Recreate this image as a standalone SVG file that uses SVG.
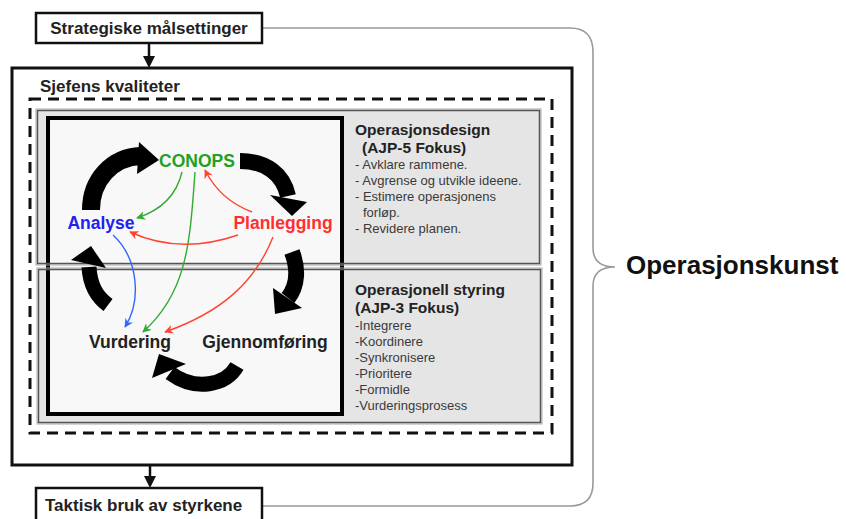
<svg xmlns="http://www.w3.org/2000/svg" width="846" height="519" viewBox="0 0 846 519">
<style>
text{font-family:"Liberation Sans",Arial,sans-serif}
.hdr{font-size:17px;font-weight:bold;fill:#222}
.cyc{font-size:17.5px;font-weight:bold}
.ph{font-size:15.5px;font-weight:bold;fill:#222}
.it{font-size:13px;fill:#3a3a3a}
.band{fill:none;stroke:#000;stroke-width:16;stroke-linecap:butt}
.gbox{fill:none;stroke:#555;stroke-width:1.5}
.gout{fill:none;stroke:#aaa;stroke-width:1}
.thin{fill:none;stroke-width:1.4}
</style>
<defs>
<marker id="mg" viewBox="0 0 10 10" refX="9" refY="5" markerWidth="9" markerHeight="9" markerUnits="userSpaceOnUse" orient="auto"><path d="M0,0 L10,5 L0,10 L3,5 z" fill="#33aa33"/></marker>
<marker id="mr" viewBox="0 0 10 10" refX="9" refY="5" markerWidth="9" markerHeight="9" markerUnits="userSpaceOnUse" orient="auto"><path d="M0,0 L10,5 L0,10 L3,5 z" fill="#ff4433"/></marker>
<marker id="mb" viewBox="0 0 10 10" refX="9" refY="5" markerWidth="9" markerHeight="9" markerUnits="userSpaceOnUse" orient="auto"><path d="M0,0 L10,5 L0,10 L3,5 z" fill="#3366ff"/></marker>
</defs>
<rect width="846" height="519" fill="#fff"/>

<g id="brace">
<path d="M262,28 H570 Q593,28 593,52 V248 Q593,267 615,267 Q593,267 593,286 V483 Q593,506 570,506 H262" fill="none" stroke="#999" stroke-width="1.6"/>
</g>

<g id="strategiske">
<rect x="36" y="13" width="226" height="30" fill="#fff" stroke="#111" stroke-width="2.5"/>
<text x="149" y="34" class="hdr" text-anchor="middle">Strategiske målsettinger</text>
</g>

<g id="outer-frame">
<rect x="12" y="68" width="560" height="397" fill="#fff" stroke="#111" stroke-width="3"/>
<text x="40" y="92" class="hdr">Sjefens kvaliteter</text>
</g>

<g id="dashed-frame">
<rect x="30" y="99" width="522" height="334" fill="none" stroke="#111" stroke-width="3" stroke-dasharray="11 7"/>
</g>

<g id="operasjonsdesign">
<rect x="37" y="110" width="503" height="154" fill="#e5e5e5"/>
</g>
<g id="operasjonell-styring">
<rect x="38" y="269" width="503" height="154" fill="#e5e5e5"/>
</g>

<g id="cycle-square">
<rect x="48" y="118" width="294" height="296" fill="#f8f8f8" stroke="#000" stroke-width="4"/>
</g>

<g id="box-outlines">
<rect x="36" y="109" width="505" height="156" class="gout"/>
<rect x="37.5" y="110.5" width="502" height="153" class="gbox"/>
<rect x="37" y="268" width="505" height="156" class="gout"/>
<rect x="38.5" y="269.5" width="502" height="153" class="gbox"/>
</g>

<g id="design-text">
<text x="355" y="135" class="ph">Operasjonsdesign</text>
<text x="362" y="153" class="ph">(AJP-5 Fokus)</text>
<text x="355" y="169" class="it">- Avklare rammene.</text>
<text x="355" y="185" class="it">- Avgrense og utvikle ideene.</text>
<text x="355" y="201" class="it">- Estimere operasjonens</text>
<text x="363" y="217" class="it">forløp.</text>
<text x="355" y="233" class="it">- Revidere planen.</text>
</g>

<g id="styring-text">
<text x="355" y="295" class="ph">Operasjonell styring</text>
<text x="355" y="313" class="ph">(AJP-3 Fokus)</text>
<text x="355" y="330" class="it">-Integrere</text>
<text x="355" y="346" class="it">-Koordinere</text>
<text x="355" y="362" class="it">-Synkronisere</text>
<text x="355" y="378" class="it">-Prioritere</text>
<text x="355" y="394" class="it">-Formidle</text>
<text x="355" y="410" class="it">-Vurderingsprosess</text>
</g>

<g id="cycle-arrows">
<path class="band" style="stroke-width:18" d="M91,210 C91,180 112,157 141,156"/>
<polygon points="139,142 159,160 137,174"/>
<path class="band" d="M240,161 C266,161 283,174 288,196"/>
<polygon points="270,195 307,202 292,216"/>
<path class="band" d="M292,252 C298,268 298,285 288,298"/>
<polygon points="273,288 302,308 275,314"/>
<path class="band" style="stroke-width:15" d="M237,366 C226,385 196,392 170,373"/>
<polygon points="152,378 186,364 159,354"/>
<path class="band" style="stroke-width:15" d="M108,305 C96,296 90,285 89,267"/>
<polygon points="71,260 91,246 106,268"/>
</g>

<g id="connectors">
<path d="M149,43 V58" stroke="#111" stroke-width="2.5" fill="none"/>
<polygon points="143,56 155,56 149,68" fill="#111"/>
<path d="M150,465 V478" stroke="#111" stroke-width="2.5" fill="none"/>
<polygon points="144,476 156,476 150,488" fill="#111"/>
<path class="thin" stroke="#33aa33" d="M182,172 Q174,206 137,218" marker-end="url(#mg)"/>
<path class="thin" stroke="#33aa33" d="M195,172 C190,240 188,292 143,332" marker-end="url(#mg)"/>
<path class="thin" stroke="#ff4433" d="M252,212 Q220,200 205,170" marker-end="url(#mr)"/>
<path class="thin" stroke="#ff4433" d="M238,235 Q180,255 130,232" marker-end="url(#mr)"/>
<path class="thin" stroke="#ff4433" d="M273,237 C255,282 222,312 165,332" marker-end="url(#mr)"/>
<path class="thin" stroke="#3366ff" d="M113,235 C138,258 142,300 125,327" marker-end="url(#mb)"/>
</g>

<g id="conops"><text x="197" y="167" class="cyc" fill="#22a022" text-anchor="middle">CONOPS</text></g>
<g id="analyse"><text x="101" y="229" class="cyc" fill="#2222ee" text-anchor="middle">Analyse</text></g>
<g id="planlegging"><text x="283" y="229" class="cyc" fill="#ff2f2f" text-anchor="middle">Planlegging</text></g>
<g id="vurdering"><text x="130" y="348" class="cyc" fill="#222" text-anchor="middle">Vurdering</text></g>
<g id="gjennomforing"><text x="265" y="348" class="cyc" fill="#222" text-anchor="middle">Gjennomføring</text></g>

<g id="operasjonskunst"><text x="626" y="274" style="font-size:26px;font-weight:bold;fill:#111">Operasjonskunst</text></g>

<g id="taktisk">
<rect x="36" y="488" width="226" height="40" fill="#fff" stroke="#111" stroke-width="2.5"/>
<text x="45" y="511" class="hdr">Taktisk bruk av styrkene</text>
</g>
</svg>
